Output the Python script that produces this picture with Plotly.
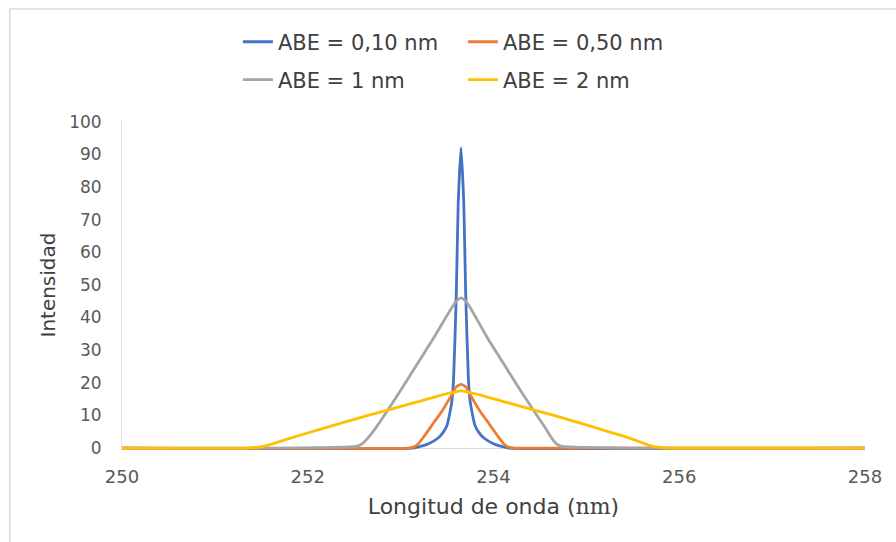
import plotly.graph_objects as go

# ---- data ----
blue_x = [250, 253.13, 253.20, 253.30, 253.40, 253.45, 253.50, 253.55, 253.57, 253.60, 253.62, 253.65,
          253.68, 253.70, 253.73, 253.75, 253.80, 253.85, 253.90, 254.00, 254.10, 254.17, 258]
blue_y = [0, 0, 0.4, 1.3, 3, 4.5, 7, 14, 21, 48, 75, 92,
          75, 48, 21, 14, 7, 4.5, 3, 1.3, 0.4, 0, 0]

orange_x = [250, 253.08, 253.13, 253.18, 253.25, 253.35, 253.45, 253.55, 253.60, 253.65,
            253.70, 253.75, 253.85, 253.95, 254.05, 254.12, 254.17, 254.23, 258]
orange_y = [0, 0, 0.2, 1, 3.5, 7.5, 11.5, 16.3, 18.8, 19.5,
            18.8, 16.3, 11.5, 7.5, 3.5, 1, 0.2, 0, 0]

gray_x = [250, 251.5, 252.3, 252.52, 252.57, 252.63, 252.74, 252.94, 253.14, 253.34, 253.55, 253.60, 253.65,
          253.70, 253.75, 253.95, 254.15, 254.35, 254.55, 254.64, 254.69, 254.74, 254.95, 255.8, 258]
gray_y = [0, 0, 0.2, 0.5, 1, 2.5, 6.5, 15, 24, 33, 43, 45, 46,
          45, 43, 33, 24, 15, 6.5, 2.5, 1, 0.5, 0.2, 0, 0]

yellow_x = [250, 251.35, 251.45, 251.52, 251.62, 251.83, 252.14, 252.65, 253.15, 253.45, 253.65,
            253.85, 254.15, 254.65, 255.15, 255.45, 255.63, 255.72, 255.80, 255.90, 258]
yellow_y = [0, 0, 0.2, 0.5, 1.3, 3.2, 5.8, 10, 13.9, 16.3, 17.5,
            16.3, 13.9, 10, 5.8, 3.2, 1.3, 0.5, 0.2, 0, 0]

names = ["ABE = 0,10 nm", "ABE = 0,50 nm", "ABE = 1 nm", "ABE = 2 nm"]
colors = ["#4472C4", "#ED7D31", "#A5A5A5", "#FFC000"]
y_ticks = [0, 10, 20, 30, 40, 50, 60, 70, 80, 90, 100]
x_ticks = [250, 252, 254, 256, 258]

FONT = "DejaVu Sans"
fig = go.Figure()
series = [(blue_x, blue_y), (orange_x, orange_y), (gray_x, gray_y), (yellow_x, yellow_y)]
legends = ["legend", "legend", "legend2", "legend2"]
for (xs, ys), n, c, lg in zip(series, names, colors, legends):
    fig.add_trace(go.Scatter(x=xs, y=ys, name=n, mode="lines",
                             line=dict(color=c, width=2.8, shape="spline", smoothing=0.5),
                             legend=lg))

leg_common = dict(orientation="h", xanchor="left", yanchor="middle", entrywidth=180,
                  entrywidthmode="pixels", bgcolor="rgba(0,0,0,0)",
                  font=dict(family=FONT, size=21, color="#404040"))
fig.update_layout(
    width=896, height=542,
    margin=dict(l=122, r=31, t=120, b=92),
    paper_bgcolor="white", plot_bgcolor="white",
    font=dict(family=FONT, color="#595959"),
    legend=dict(x=0.156, y=1.236, **leg_common),
    legend2=dict(x=0.156, y=1.121, **leg_common),
    xaxis=dict(range=[250, 258], tickvals=x_ticks, showgrid=False, showline=False, zeroline=False,
               ticks="", ticklabelstandoff=14,
               tickfont=dict(family=FONT, size=18, color="#595959"),
               title=dict(text="Longitud de onda (<span style=\"font-family:'DejaVu Serif'\">nm</span>)",
                          font=dict(family=FONT, size=22, color="#404040"), standoff=12)),
    yaxis=dict(range=[-0.6, 100.5], tickvals=y_ticks, showgrid=False, showline=True,
               linecolor="#E3E3E3", linewidth=1, zeroline=True, zerolinecolor="#D9D9D9",
               zerolinewidth=1, ticks="", ticklabelstandoff=16,
               tickfont=dict(family=FONT, size=17, color="#595959"),
               title=dict(text="Intensidad", font=dict(family=FONT, size=20, color="#404040"),
                          standoff=8)),
    shapes=[dict(type="rect", xref="paper", yref="paper", x0=-0.151, x1=1.1, y0=-0.35, y1=1.336,
                 line=dict(color="#D9D9D9", width=1.5), fillcolor="rgba(0,0,0,0)", layer="below")],
)
fig.write_html("out.html")
